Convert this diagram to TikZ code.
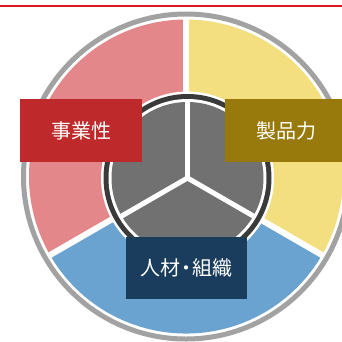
\documentclass[tikz,border=0pt]{standalone}
\usepackage{fontspec}
\newfontfamily\cjk{Noto Sans CJK JP}
\definecolor{topred}{HTML}{E3141E}
\definecolor{ringgray}{HTML}{A2A2A2}
\definecolor{secpink}{HTML}{E4878A}
\definecolor{secyellow}{HTML}{F3DE80}
\definecolor{secblue}{HTML}{6BA3D0}
\definecolor{hubdark}{HTML}{3A3A3A}
\definecolor{hubgray}{HTML}{717171}
\definecolor{boxred}{HTML}{BE2A2B}
\definecolor{boxolive}{HTML}{977A0B}
\definecolor{boxnavy}{HTML}{1A3D5E}
\tikzset{
  label box/.style={minimum width=122pt, minimum height=63pt, inner sep=0pt,
    text=white, font=\cjk\fontsize{20}{20}\selectfont},
  gap/.style={white, line width=6pt},
  spoke/.style={white, line width=5pt}
}
\begin{document}
\begin{tikzpicture}[x=1pt,y=1pt]
\useasboundingbox (0,0) rectangle (342,-341);
\clip (0,0) rectangle (342,-341);
\coordinate (c) at (186,-176.5);
\coordinate (h) at (187.5,-178);
% top red rule
\draw[topred, line width=2pt] (0,-5.5) -- (342,-5.5);
% sectors
\fill[secpink] (c) -- ++(90:157pt) arc[start angle=90, end angle=210, radius=157pt] -- cycle;
\fill[secyellow] (c) -- ++(-30:157pt) arc[start angle=-30, end angle=90, radius=157pt] -- cycle;
\fill[secblue] (c) -- ++(210:157pt) arc[start angle=210, end angle=330, radius=157pt] -- cycle;
\draw[gap] (c) -- ++(90:158pt);
\draw[gap] (c) -- ++(210:158pt);
\draw[gap] (c) -- ++(330:158pt);
% outer gray ring
\draw[ringgray, line width=5pt] (c) circle[radius=162.5pt];
% hub
\fill[white] (h) circle[radius=86.5pt];
\fill[hubdark] (h) circle[radius=84pt];
\fill[white] (h) circle[radius=79pt];
\fill[hubgray] (h) circle[radius=76pt];
\draw[spoke] (h) -- ++(90:78pt);
\draw[spoke] (h) -- ++(210:78pt);
\draw[spoke] (h) -- ++(330:78pt);
% label boxes
\node[label box, fill=boxred] (biz) at (81,-130.5) {事業性};
\node[label box, fill=boxolive] (prod) at (286,-130.5) {製品力};
\node[label box, fill=boxnavy, minimum width=121pt, minimum height=62pt] (hr) at (186.5,-268) {人材\kern-0.22em・\kern-0.22em組織};
\end{tikzpicture}
\end{document}
